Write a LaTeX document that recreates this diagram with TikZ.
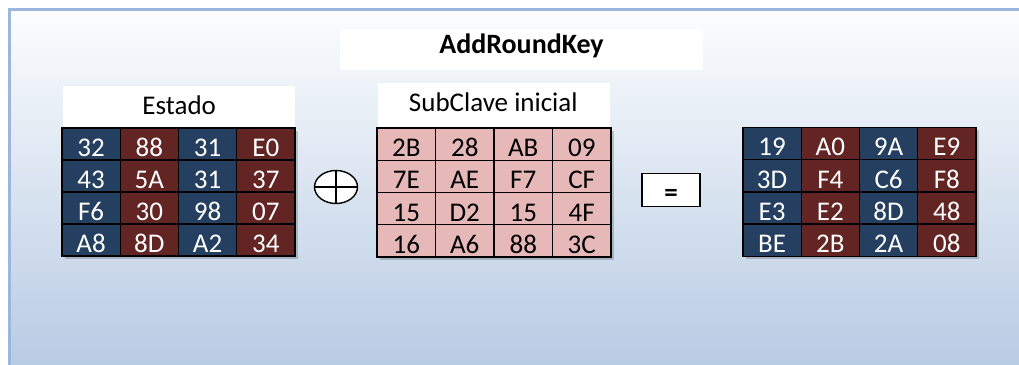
\documentclass[tikz,border=0pt]{standalone}
\usepackage{fontspec}
\setmainfont{Carlito}
\usetikzlibrary{shapes.geometric}
\definecolor{dblue}{HTML}{243F60}
\definecolor{dred}{HTML}{632523}
\definecolor{pinkc}{HTML}{E6B9B8}
\definecolor{bgtop}{HTML}{FCFDFE}
\definecolor{bgbot}{HTML}{B6CAE3}
\definecolor{bord}{HTML}{9BB7DE}
\begin{document}
\begin{tikzpicture}[x=1pt,y=-1pt,
  cellbox/.style={draw=black, line width=1.1pt, minimum width=58.25pt, minimum height=32pt,
    inner sep=0pt, text height=25pt, text depth=0pt, font=\fontsize{27}{27}\selectfont},
  bluecell/.style={cellbox, fill=dblue, text=white},
  redcell/.style={cellbox, fill=dred, text=white},
  pinkcell/.style={cellbox, fill=pinkc, text=black},
  labelbox/.style={fill=white, draw=none, inner sep=0pt},
  labeltext/.style={anchor=base, inner sep=0pt, font=\fontsize{27}{27}\selectfont},
  gridshadow/.style={fill=black, opacity=0.18}
]
\useasboundingbox (0,0) rectangle (1019,364);
\clip (0,0) rectangle (1019,364);
% background panel
\shade[top color=bgtop, bottom color=bgbot] (9.5,9.5) rectangle (1030,375);
\draw[bord, line width=3pt] (9.5,380) -- (9.5,9.5) -- (1030,9.5);

% title
\node[labelbox, minimum width=363pt, minimum height=41pt] (titlebox) at (521.5,49.5) {};
\node[labeltext, font=\fontsize{28}{28}\selectfont\bfseries] (title) at (521.5,53.3) {AddRoundKey};

% labels
\node[labelbox, minimum width=232pt, minimum height=41pt] (estbox) at (179,106.5) {};
\node[labeltext] (estado) at (179.2,114) {Estado};
\node[labelbox, minimum width=232pt, minimum height=44pt] (subbox) at (494,105) {};
\node[labeltext] (subclave) at (493.3,111) {SubClave inicial};

% shadows
\fill[gridshadow] (64.5,130.5) rectangle (297.5,258.5);
\fill[gridshadow] (379.5,130.5) rectangle (613.5,259.5);
\fill[gridshadow] (745.5,129.5) rectangle (978.5,259);

% Estado grid
\foreach \row [count=\r] in {{32,88,31,E0},{43,5A,31,37},{F6,30,98,07},{A8,8D,A2,34}} {
  \foreach \v [count=\c] in \row {
    \pgfmathtruncatemacro{\odd}{mod(\c,2)}
    \ifnum\odd=1 \def\sty{bluecell}\else\def\sty{redcell}\fi
    \node[\sty] (e-\r-\c) at ({62+58.25*(\c-0.5)},{128+32*(\r-0.5)}) {\v};
  }
}
% SubClave grid
\foreach \row [count=\r] in {{2B,28,AB,09},{7E,AE,F7,CF},{15,D2,15,4F},{16,A6,88,3C}} {
  \foreach \v [count=\c] in \row {
    \node[pinkcell, minimum width=58.5pt, minimum height=32.25pt] (k-\r-\c) at ({377+58.5*(\c-0.5)},{128+32.25*(\r-0.5)}) {\v};
  }
}
% Result grid
\foreach \row [count=\r] in {{19,A0,9A,E9},{3D,F4,C6,F8},{E3,E2,8D,48},{BE,2B,2A,08}} {
  \foreach \v [count=\c] in \row {
    \pgfmathtruncatemacro{\odd}{mod(\c,2)}
    \ifnum\odd=1 \def\sty{bluecell}\else\def\sty{redcell}\fi
    \node[\sty] (r-\r-\c) at ({743+58.25*(\c-0.5)},{127+32.4*(\r-0.5)}) {\v};
  }
}

% XOR symbol
\node[ellipse, draw=black, fill=white, line width=1.4pt, minimum width=43pt, minimum height=33pt, inner sep=0pt] (xor) at (336,187) {};
\draw[line width=1.4pt] (xor.north) -- (xor.south);
\draw[line width=1.4pt] (xor.west) -- (xor.east);

% equals box
\node[draw=black, fill=white, line width=1.6pt, minimum width=58pt, minimum height=33pt, inner sep=0pt] (eqbox) at (671,190) {};
\node[labeltext, font=\fontsize{27}{27}\selectfont\bfseries] (eq) at (671,201) {=};
\end{tikzpicture}
\end{document}
